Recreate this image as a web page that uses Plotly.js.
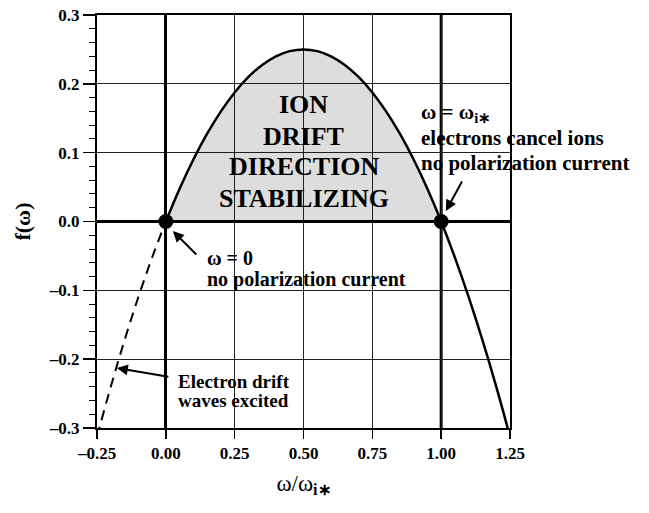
<!DOCTYPE html>
<html>
<head>
<meta charset="utf-8">
<script src="https://cdn.plot.ly/plotly-3.0.1.min.js"></script>
<style>html,body{margin:0;padding:0;background:#fff;}#chart{width:649px;height:513px;}</style>
</head>
<body>
<div id="chart"></div>
<script>
// Values
const omega = [-0.25, -0.2, -0.15, -0.1, -0.05, 0, 0.05, 0.1, 0.15, 0.2, 0.25, 0.3, 0.35, 0.4, 0.45, 0.5,
               0.55, 0.6, 0.65, 0.7, 0.75, 0.8, 0.85, 0.9, 0.95, 1.0, 1.05, 1.1, 1.15, 1.2, 1.25];
const fOmega = [-0.3125, -0.24, -0.1725, -0.11, -0.0525, 0, 0.0475, 0.09, 0.1275, 0.16, 0.1875, 0.21, 0.2275, 0.24, 0.2475, 0.25,
                0.2475, 0.24, 0.2275, 0.21, 0.1875, 0.16, 0.1275, 0.09, 0.0475, 0, -0.0525, -0.11, -0.1725, -0.24, -0.3125];
const rootsX = [0, 1];
const rootsY = [0, 0];
const xTickVals = [-0.25, 0, 0.25, 0.5, 0.75, 1.0, 1.25];
const xTickText = ['–0.25', '0.00', '0.25', '0.50', '0.75', '1.00', '1.25'];
const yTickVals = [-0.3, -0.2, -0.1, 0, 0.1, 0.2, 0.3];
const yTickText = ['–0.3', '–0.2', '–0.1', '0.0', '0.1', '0.2', '0.3'];

const i0 = omega.indexOf(0), i1 = omega.indexOf(1.0);
const negX = omega.slice(0, i0 + 1), negY = fOmega.slice(0, i0 + 1);
const posX = omega.slice(i0), posY = fOmega.slice(i0);
const fillX = omega.slice(i0, i1 + 1), fillY = fOmega.slice(i0, i1 + 1);

const FONT = 'Liberation Serif';

const traces = [
  {x: fillX, y: fillY, mode: 'lines', line: {width: 0, shape: 'spline'}, fill: 'tozeroy',
   fillcolor: 'rgba(0,0,0,0.135)', hoverinfo: 'skip', showlegend: false},
  {x: negX, y: negY, mode: 'lines', line: {color: 'black', width: 2, dash: '10px,7px', shape: 'spline'}, showlegend: false},
  {x: posX, y: posY, mode: 'lines', line: {color: 'black', width: 2.5, shape: 'spline'}, showlegend: false},
  {x: rootsX, y: rootsY, mode: 'markers', marker: {color: 'black', size: 15}, cliponaxis: false, showlegend: false}
];

function txt(t, x, y, size, xanchor) {
  return {text: t, x: x, y: y, xref: 'x', yref: 'y', showarrow: false, xanchor: xanchor || 'left', yanchor: 'middle',
          font: {family: FONT, size: size, color: 'black', weight: 'bold'}};
}
function arrow(x, y, ax, ay) {
  return {text: '', x: x, y: y, xref: 'x', yref: 'y', ax: ax, ay: ay, showarrow: true,
          arrowhead: 2, arrowsize: 1.1, arrowwidth: 2, arrowcolor: 'black'};
}

const layout = {
  width: 649, height: 513,
  margin: {l: 97, r: 139, t: 15, b: 85},
  paper_bgcolor: 'white', plot_bgcolor: 'white',
  showlegend: false,
  font: {family: FONT, color: 'black'},
  xaxis: {
    range: [-0.25, 1.25], tickmode: 'array', tickvals: xTickVals, ticktext: xTickText,
    ticks: 'outside', ticklen: 9, tickwidth: 1.5, tickcolor: 'black',
    showline: true, linewidth: 2, linecolor: 'black', mirror: true,
    showgrid: true, gridcolor: '#222', gridwidth: 1,
    zeroline: true, zerolinecolor: 'black', zerolinewidth: 3,
    tickfont: {family: FONT, size: 17, color: 'black', weight: 'bold'},
    title: {text: 'ω/ω<sub><b>i∗</b></sub>', font: {family: FONT, size: 23, color: 'black'}, standoff: 12},
    fixedrange: true
  },
  yaxis: {
    range: [-0.3, 0.3], tickmode: 'array', tickvals: yTickVals, ticktext: yTickText,
    ticks: 'outside', ticklen: 12, tickwidth: 1.5, tickcolor: 'black',
    minor: {tickmode: 'linear', tick0: 0, dtick: 0.02, ticks: 'outside', ticklen: 6, tickwidth: 1, tickcolor: 'black', showgrid: false},
    showline: true, linewidth: 2, linecolor: 'black', mirror: true,
    showgrid: true, gridcolor: '#222', gridwidth: 1,
    zeroline: true, zerolinecolor: 'black', zerolinewidth: 3,
    tickfont: {family: FONT, size: 17, color: 'black', weight: 'bold'},
    title: {text: 'f(ω)', font: {family: FONT, size: 22, color: 'black', weight: 'bold'}, standoff: 12},
    fixedrange: true
  },
  shapes: [
    {type: 'line', xref: 'x', yref: 'paper', x0: 1, x1: 1, y0: 0, y1: 1, line: {color: 'black', width: 3}, layer: 'below'}
  ],
  annotations: [
    txt('ION', 0.5, 0.1707, 26, 'center'),
    txt('DRIFT', 0.5, 0.1242, 26, 'center'),
    txt('DIRECTION', 0.5, 0.0792, 26, 'center'),
    txt('STABILIZING', 0.5, 0.0327, 26, 'center'),
    txt('ω = ω<sub>i∗</sub>', 0.92, 0.158, 21),
    txt('electrons cancel ions', 0.92, 0.1213, 21),
    txt('no polarization current', 0.92, 0.085, 21),
    txt('ω = 0', 0.1417, -0.0530, 20),
    txt('no polarization current', 0.1417, -0.0845, 20),
    txt('Electron drift', 0.0363, -0.2320, 19),
    txt('waves excited', 0.0363, -0.2605, 19),
    arrow(0.0254, -0.0138, 25, 25),
    arrow(1.017, 0.0153, 17, -31),
    arrow(-0.178, -0.2128, 53, 9)
  ]
};

Plotly.newPlot('chart', traces, layout, {staticPlot: true, displayModeBar: false});
</script>
</body>
</html>
